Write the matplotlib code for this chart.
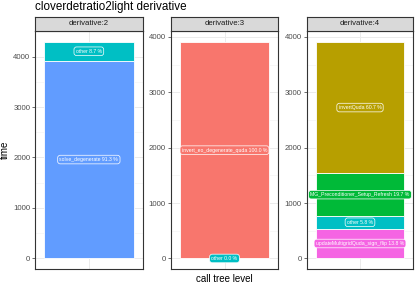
"""
cloverdetratio2light derivative: stacked call tree time per derivative level
"""
import numpy as np
import matplotlib
matplotlib.use('Agg')
import matplotlib.pyplot as plt
from matplotlib.patches import Rectangle

plt.rcParams['font.family'] = ['Liberation Sans', 'DejaVu Sans']

# data, one list per facet (stacked bottom -> top)
facets = ['derivative:2', 'derivative:3', 'derivative:4']
d2_names = ['solve_degenerate', 'other']
d2_times = [3918, 373]
d3_names = ['other', 'invert_eo_degenerate_quda']
d3_times = [0, 3910]
d4_names = ['updateMultigridQuda_sign_flip', 'other',
            'MG_Preconditioner_Setup_Refresh', 'invertQuda']
d4_times = [540, 227, 770, 2373]

colors = {
    'invert_eo_degenerate_quda': '#F8766D',
    'invertQuda': '#B79F00',
    'MG_Preconditioner_Setup_Refresh': '#00BA38',
    'other': '#00BFC4',
    'solve_degenerate': '#619CFF',
    'updateMultigridQuda_sign_flip': '#F564E3',
}

W, H = 415, 283
fig = plt.figure(figsize=(W / 100, H / 100), dpi=100)
fig.patch.set_facecolor('white')


def box(x0, x1, top, bottom):
    return [x0 / W, 1 - bottom / H, (x1 - x0) / W, (bottom - top) / H]


panel_x = [(35, 142.7), (170.7, 278.3), (306.7, 413.3)]
panel_top, panel_bot, strip_top = 31, 269.3, 16.7
data = [(d2_names, d2_times), (d3_names, d3_times), (d4_names, d4_times)]

for (x0, x1), name, (names, times) in zip(panel_x, facets, data):
    ax = fig.add_axes(box(x0, x1, panel_top, panel_bot))
    total = sum(times)
    ax.set_xlim(-0.542, 0.542)
    ax.set_ylim(-0.05 * total, total * 1.05)
    # grid
    for y in np.arange(500, total * 1.05, 1000):
        ax.axhline(y, color='#F2F2F2', lw=0.4, zorder=0)
    for y in np.arange(0, total * 1.05, 1000):
        ax.axhline(y, color='#EBEBEB', lw=0.7, zorder=0)
    ax.axvline(0, color='#EBEBEB', lw=0.7, zorder=0)

    bottom = 0
    for n, t in zip(names, times):
        ax.bar(0, t, width=0.9, bottom=bottom, color=colors[n],
               edgecolor='white', linewidth=0.6, zorder=2)
        pct = t / total * 100
        ax.text(0, bottom + t / 2, f'{n} {pct:.1f} %', ha='center', va='center',
                fontsize=3.7, color='white', zorder=4,
                bbox=dict(boxstyle='round,pad=0.35,rounding_size=0.5',
                          facecolor=colors[n], edgecolor='white', linewidth=0.5))
        bottom += t

    ax.set_xticks([])
    ax.set_yticks(np.arange(0, total * 1.05, 1000))
    ax.set_yticklabels([f'{int(v)}' for v in np.arange(0, total * 1.05, 1000)])
    ax.tick_params(axis='y', labelsize=5.6, labelcolor='#4D4D4D', color='#333333',
                   length=2.4, width=0.5, pad=1)
    for s in ax.spines.values():
        s.set_color('#333333')
        s.set_linewidth(0.8)

    # strip
    sax = fig.add_axes(box(x0, x1, strip_top, panel_top))
    sax.set_facecolor('#D9D9D9')
    sax.set_xticks([])
    sax.set_yticks([])
    for s in sax.spines.values():
        s.set_color('#333333')
        s.set_linewidth(0.8)
    sax.text(0.5, 0.5, name, ha='center', va='center', fontsize=5.6,
             color='#1A1A1A', transform=sax.transAxes)

fig.text(35 / W, 1 - 1.0 / H, 'cloverdetratio2light derivative', ha='left', va='top',
         fontsize=8.4, color='black')
fig.text(224 / W, 1 - 273.5 / H, 'call tree level', ha='center', va='top',
         fontsize=7.05, color='black')
fig.text(5 / W, 1 - 150 / H, 'time', ha='center', va='center', rotation=90,
         fontsize=7.05, color='black')

fig.savefig('out.png', dpi=100, facecolor='white')
plt.close()
